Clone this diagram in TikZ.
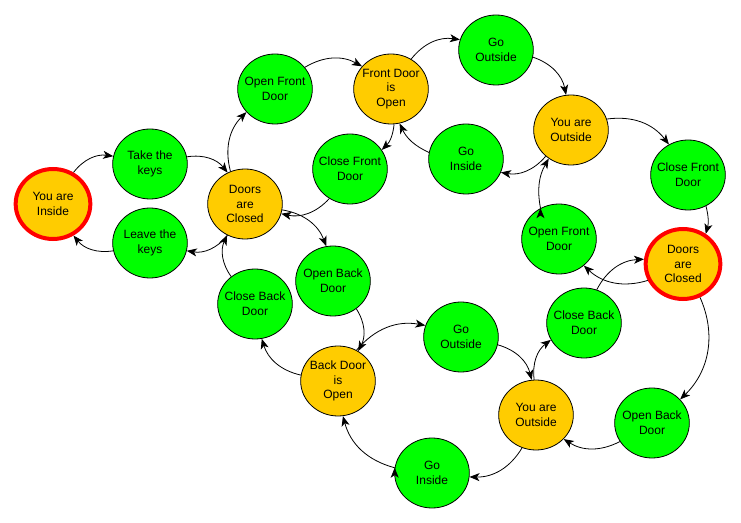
\documentclass[tikz,border=0pt]{standalone}
\usepackage{fontspec}
\setmainfont{Liberation Sans}
\usetikzlibrary{shapes.geometric, arrows.meta}
\definecolor{actgreen}{RGB}{0,255,0}
\definecolor{placeorange}{RGB}{255,204,0}
\tikzset{->, >={Stealth[length=7.5pt, width=6pt, inset=2pt]},
  blob/.style={ellipse, draw, minimum width=56pt, minimum height=52.5pt,
    inner xsep=-12pt, inner ysep=-6pt, align=center, font=\fontsize{9}{11}\selectfont},
  act/.style={blob, fill=actgreen},
  place/.style={blob, fill=placeorange},
  home/.style={place, draw=red, line width=3pt}}

\begin{document}
\begin{tikzpicture}[x=0.75pt, y=0.75pt, line width=0.6pt]
    \useasboundingbox (0,0) rectangle (741,-523);
    % inside
    \node[home] (in) at (53,-204) {You are\\Inside};
    \node[act] (take) at (150,-164) {Take the\\keys};
    \node[act] (leave) at (150,-243) {Leave the\\keys};
    \node[place] (dc1) at (245,-204) {Doors\\are\\Closed};
    % front door
    \node[act] (ofd1) at (275,-89) {Open Front\\Door};
    \node[place] (fdo) at (391,-89) {Front Door\\is\\Open};
    \node[act] (go1) at (496,-50) {Go\\Outside};
    \node[place] (out1) at (571,-130) {You are\\Outside};
    \node[act] (gi1) at (466,-159) {Go\\Inside};
    \node[act] (cfd1) at (350,-169) {Close Front\\Door};
    \node[act] (cfd2) at (688,-175) {Close Front\\Door};
    \node[home] (dc2) at (683,-264) {Doors\\are\\Closed};
    \node[act] (ofd2) at (559,-239) {Open Front\\Door};
    % back door
    \node[act] (obd1) at (333,-281) {Open Back\\Door};
    \node[act] (cbd1) at (255,-304) {Close Back\\Door};
    \node[place] (bdo) at (338,-381) {Back Door\\is\\Open};
    \node[act] (go2) at (461,-337) {Go\\Outside};
    \node[act] (cbd2) at (584,-323) {Close Back\\Door};
    \node[place] (out2) at (536,-415) {You are\\Outside};
    \node[act] (obd2) at (652,-423) {Open Back\\Door};
    \node[act] (gi2) at (432,-473) {Go\\Inside};

    \draw (in.57) edge[bend left] (take.168)
          (take.11) edge[bend left] (dc1.119)
          (dc1.241) edge[bend left] (leave.348)
          (leave.192) edge[bend left] (in.303)
          (dc1.114) edge[bend left] (ofd1.219)
          (ofd1.36) edge[bend left] (fdo.142)
          (fdo.56) edge[bend left] (go1.164)
          (fdo.275) edge[bend left=20] (cfd1.31)
          (cfd1.235) edge[bend left] (dc1.345)
          (gi1.170) edge[bend left=20] (fdo.284)
          (go1.349) edge[bend left] (out1.98)
          (out1.226) edge[bend left] (gi1.339)
          (out1.17) edge[bend left] (cfd2.122)
          (cfd2.300) edge[bend left=15] (dc2.53)
          (dc2.205) edge[bend left] (ofd2.313)
          (ofd2.121) edge[bend left=20] (out1.232);
    \draw (dc1.351) edge[bend left] (obd1.101)
          (obd1.310) edge[bend left] (bdo.56)
          (bdo.171) edge[bend left] (cbd1.281)
          (cbd1.131) edge[bend left] (dc1.240)
          (bdo.59) edge[bend left] (go2.162)
          (go2.348) edge[bend left] (out2.97)
          (out2.93) edge[bend left] (cbd2.207)
          (cbd2.69) edge[bend left] (dc2.173)
          (dc2.297) edge[bend left=35] (obd2.40)
          (obd2.210) edge[bend left] (out2.319)
          (out2.247) edge[bend left] (gi2.354)
          (gi2.172) edge[bend left] (bdo.278);
\end{tikzpicture}
\end{document}
